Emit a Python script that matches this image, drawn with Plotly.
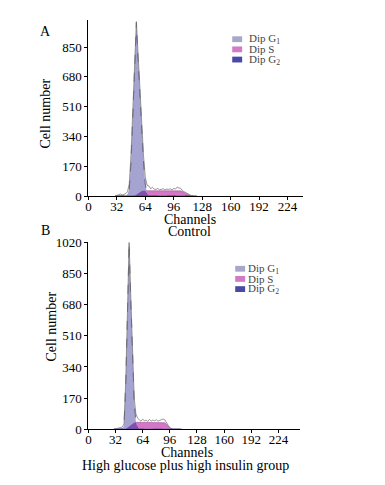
import numpy as np
import plotly.graph_objects as go

# ---------------- Panel A (Control) ----------------
ch_a = list(range(30, 124, 2))
total_a = [0, 2, 8, 12, 6, 10, 14, 25, 70, 240, 470, 760, 995, 800, 600, 390, 230, 110,
           62, 58, 42, 50, 40, 38, 44, 36, 40, 42, 36, 40, 38, 42, 36, 44, 40, 52, 46, 44,
           30, 24, 16, 10, 5, 2, 0, 0, 0]
g1_a = [0, 0, 0, 0, 0, 0, 2, 10, 40, 200, 450, 730, 990, 780, 560, 360, 200, 70,
        15, 0, 0, 0, 0, 0, 0, 0, 0, 0, 0, 0, 0, 0, 0, 0, 0, 0, 0, 0,
        0, 0, 0, 0, 0, 0, 0, 0, 0]
s_a = [0, 0, 0, 0, 0, 0, 0, 0, 0, 0, 0, 2, 8, 16, 24, 29, 31, 31,
       31, 31, 31, 31, 31, 31, 31, 31, 31, 31, 31, 31, 31, 31, 31, 31, 32, 33, 33, 30,
       25, 19, 13, 8, 4, 1, 0, 0, 0]
g2_a = [0, 0, 0, 0, 0, 0, 0, 0, 0, 0, 0, 0, 0, 0, 0, 0, 0, 0,
        0, 0, 0, 0, 0, 0, 0, 0, 0, 0, 0, 0, 0, 0, 0, 0, 0, 0, 0, 0,
        1, 2, 1, 0, 0, 0, 0, 0, 0]

# ---------------- Panel B (High glucose plus high insulin) ----------------
ch_b = list(range(30, 112, 2))
total_b = [0, 2, 6, 10, 8, 12, 30, 260, 630, 1020, 720, 400, 170, 85, 60, 52, 44, 55,
           46, 50, 42, 54, 44, 50, 46, 52, 44, 48, 50, 56, 52, 40, 22, 8, 2, 0, 0, 0,
           0, 0, 0]
g1_b = [0, 0, 0, 0, 0, 2, 20, 250, 620, 1015, 700, 380, 150, 40, 5, 0, 0, 0,
        0, 0, 0, 0, 0, 0, 0, 0, 0, 0, 0, 0, 0, 0, 0, 0, 0, 0, 0, 0,
        0, 0, 0]
s_b = [0, 0, 0, 0, 0, 0, 0, 2, 8, 16, 24, 31, 36, 38, 38, 38, 38, 38,
       38, 38, 38, 38, 38, 38, 38, 38, 38, 38, 38, 38, 36, 28, 16, 6, 1, 0, 0, 0,
       0, 0, 0]
g2_b = [0, 0, 0, 0, 0, 0, 0, 0, 0, 0, 0, 0, 0, 0, 0, 0, 0, 0,
        0, 0, 0, 0, 0, 0, 0, 0, 0, 0, 0, 0, 0, 0, 0, 1, 2, 1, 0, 0,
        0, 0, 0]

x_ticks = [0, 32, 64, 96, 128, 160, 192, 224]
y_ticks = [0, 170, 340, 510, 680, 850, 1020]
legend_names = ["Dip G<sub>1</sub>", "Dip S", "Dip G<sub>2</sub>"]

FONT = "Liberation Serif, Times New Roman, serif"
G1_FILL = "rgba(166,164,210,1)"
S_FILL = "rgba(214,120,200,1)"
OVL_FILL = "rgba(128,80,172,1)"
G2_FILL = "rgba(50,50,150,1)"
LEG_COLORS = ["#a9a7c9", "#d27ac4", "#4a4aa6"]

OFF = 8  # page body margin
W, H = 385, 485
FW, FH = W - OFF, H - OFF


def px(v):
    return (v - OFF) / FW


def py(v):
    return 1 - (v - OFF) / FH


fig = go.Figure()


def add_panel(ch, total, g1, s, g2, xa, ya):
    ch = np.array(ch)
    ovl = np.minimum(np.array(g1), np.array(s))
    fig.add_trace(go.Scatter(x=ch, y=s, xaxis=xa, yaxis=ya, mode="lines",
                             line=dict(color="rgba(150,60,140,0.8)", width=0.6),
                             fill="tozeroy", fillcolor=S_FILL,
                             fillpattern=dict(shape=".", fgcolor="rgba(180,80,170,0.5)", size=3, solidity=0.2, bgcolor=S_FILL),
                             name="Dip S", showlegend=False))
    fig.add_trace(go.Scatter(x=ch, y=g1, xaxis=xa, yaxis=ya, mode="lines",
                             line=dict(color="rgba(60,60,90,0.9)", width=0.8, dash="dash"),
                             fill="tozeroy", fillcolor=G1_FILL,
                             fillpattern=dict(shape="x", fgcolor="rgba(140,140,170,0.6)", size=4, solidity=0.2, bgcolor=G1_FILL),
                             name="Dip G1", showlegend=False))
    fig.add_trace(go.Scatter(x=ch, y=ovl, xaxis=xa, yaxis=ya, mode="lines",
                             line=dict(width=0), fill="tozeroy", fillcolor=OVL_FILL,
                             showlegend=False, hoverinfo="skip"))
    fig.add_trace(go.Scatter(x=ch, y=g2, xaxis=xa, yaxis=ya, mode="lines",
                             line=dict(color=G2_FILL, width=0.6),
                             fill="tozeroy", fillcolor=G2_FILL,
                             name="Dip G2", showlegend=False))
    fig.add_trace(go.Scatter(x=ch, y=total, xaxis=xa, yaxis=ya, mode="lines",
                             line=dict(color="rgba(110,110,110,0.9)", width=0.8),
                             showlegend=False))


add_panel(ch_a, total_a, g1_a, s_a, g2_a, "x", "y")
add_panel(ch_b, total_b, g1_b, s_b, g2_b, "x2", "y2")

axis_common = dict(showgrid=False, zeroline=False, showline=True, linecolor="black",
                   linewidth=1, ticks="outside", ticklen=3, tickcolor="black",
                   tickfont=dict(family=FONT, size=13, color="black"))
xaxis_extra = dict(ticklabelstandoff=-5)

fig.update_layout(
    width=FW, height=FH, margin=dict(l=0, r=0, t=0, b=0),
    paper_bgcolor="white", plot_bgcolor="white",
    font=dict(family=FONT, color="black"),
    showlegend=False,
    xaxis=dict(domain=[px(86), px(302)], range=[0, 241], anchor="y",
               tickvals=x_ticks, **axis_common, **xaxis_extra),
    yaxis=dict(domain=[py(195), py(13)], range=[0, 1005], anchor="x",
               tickvals=y_ticks[:-1], **axis_common),
    xaxis2=dict(domain=[px(86), px(299)], range=[0, 249], anchor="y2",
                tickvals=x_ticks, **axis_common, **xaxis_extra),
    yaxis2=dict(domain=[py(435.7), py(242.7)], range=[0, 1020], anchor="x2",
                tickvals=y_ticks, **axis_common),
)

annos = [
    dict(text="A", x=px(43), y=py(25)),
    dict(text="B", x=px(43), y=py(231)),
    dict(text="Channels", x=px(188), y=py(219)),
    dict(text="Control", x=px(188), y=py(232)),
    dict(text="Channels", x=px(185), y=py(460)),
    dict(text="High glucose plus high insulin group", x=px(184), y=py(473)),
    dict(text="Cell number", x=px(43), y=py(110), textangle=-90),
    dict(text="Cell number", x=px(49), y=py(330), textangle=-90),
]
for a in annos:
    fig.add_annotation(xref="paper", yref="paper", showarrow=False,
                       xanchor="center", yanchor="middle",
                       font=dict(family=FONT, size=14, color="black"), **a)

# manual compact legends
for (mx, tx, ys) in [(231, 246, [33, 43.5, 54]), (234, 245, [270, 280.5, 291])]:
    for name, col, yy in zip(legend_names, LEG_COLORS, ys):
        fig.add_shape(type="rect", xref="paper", yref="paper",
                      x0=px(mx), x1=px(mx + 10), y0=py(yy + 3), y1=py(yy - 3),
                      fillcolor=col, line=dict(width=0))
        fig.add_annotation(xref="paper", yref="paper", showarrow=False,
                           x=px(tx), y=py(yy), xanchor="left", yanchor="middle",
                           text=name, font=dict(family=FONT, size=11, color="#444"))

fig.write_html("out.html")
